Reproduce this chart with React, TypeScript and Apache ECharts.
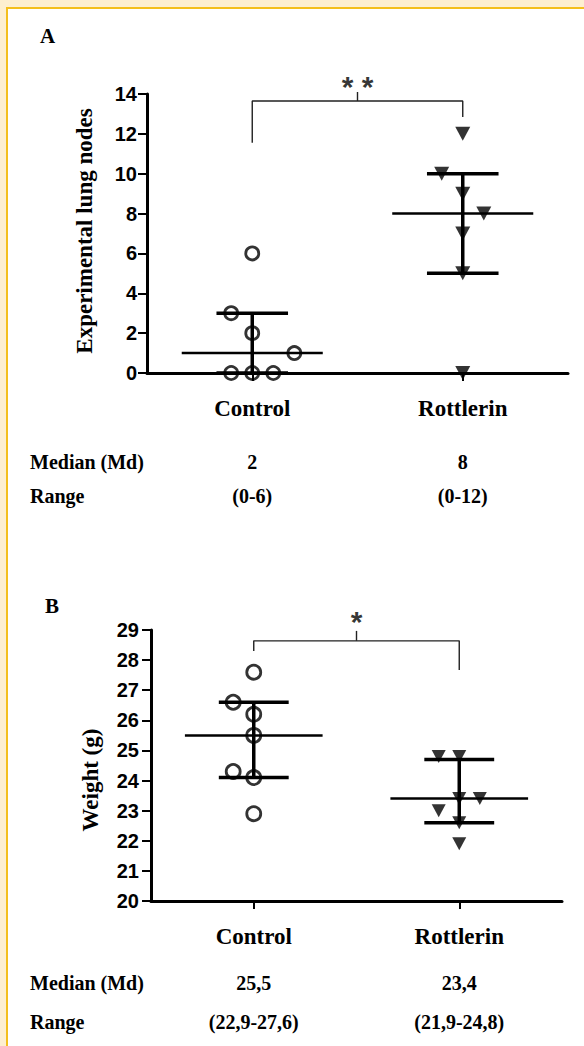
import React, { useEffect, useRef } from "react";
import * as echarts from "echarts";

// ---------- data ----------
const categories = ["Control", "Rottlerin"];

// Panel A: experimental lung nodes
const lungTicks = { min: 0, max: 14, interval: 2 };
const lungControl = [6, 3, 2, 1, 0, 0, 0];
const lungControlJitter = [0, -0.1, 0, 0.2, -0.1, 0, 0.1];
const lungRottlerin = [12, 10, 9, 8, 7, 5, 0];
const lungRottlerinJitter = [0, -0.1, 0, 0.1, 0, 0, 0];
const lungCenterLine = [1, 8];
const lungLow = [0, 5];
const lungHigh = [3, 10];
const lungMedianText = ["2", "8"];
const lungRangeText = ["(0-6)", "(0-12)"];
const lungSig = "* *";
const lungBracket = { leftFoot: 11.55, bar: 13.65, rightFoot: 12.85, tickTop: 14.1, star: 14.4 };

// Panel B: weight
const weightTicks = { min: 20, max: 29, interval: 1 };
const weightControl = [27.6, 26.6, 26.2, 25.5, 24.3, 24.1, 22.9];
const weightControlJitter = [0, -0.1, 0, 0, -0.1, 0, 0];
const weightRottlerin = [24.8, 24.8, 23.4, 23.4, 23.0, 22.6, 21.9];
const weightRottlerinJitter = [-0.1, 0, 0, 0.1, -0.1, 0, 0];
const weightCenterLine = [25.5, 23.4];
const weightLow = [24.1, 22.6];
const weightHigh = [26.6, 24.7];
const weightMedianText = ["25,5", "23,4"];
const weightRangeText = ["(22,9-27,6)", "(21,9-24,8)"];
const weightSig = "*";
const weightBracket = { leftFoot: 28.3, bar: 28.64, rightFoot: 27.67, tickTop: 28.97, star: 29.28 };

const rowLabels = ["Median (Md)", "Range"];

// ---------- styles ----------
const serif = "'Liberation Serif', 'Times New Roman', serif";
const sans = "'Liberation Sans', Arial, sans-serif";

function buildPanel(gi: number, cfg: any) {
  const yi = gi;
  const grid = { left: cfg.left, top: cfg.top, width: cfg.width, height: cfg.height, outerBoundsMode: "none", containLabel: false };
  const xAxes: any[] = [
    {
      type: "category",
      gridIndex: gi,
      position: "bottom",
      data: categories,
      boundaryGap: true,
      axisLine: { lineStyle: { color: "#000", width: 3 } },
      axisTick: { show: true, alignWithLabel: true, length: 8, lineStyle: { width: 2, color: "#000" } },
      axisLabel: { color: "#000", fontFamily: serif, fontWeight: "bold", fontSize: 23, margin: cfg.catMargin },
      splitLine: { show: false },
    },
    { type: "value", gridIndex: gi, position: "top", min: 0, max: 2, show: false },
  ];
  const yAxis = {
    type: "value",
    gridIndex: gi,
    min: cfg.ticks.min,
    max: cfg.ticks.max,
    interval: cfg.ticks.interval,
    axisLine: { show: true, lineStyle: { color: "#000", width: 3 } },
    axisTick: { show: true, length: 9, lineStyle: { width: 2, color: "#000" } },
    axisLabel: { color: "#000", fontFamily: sans, fontWeight: "bold", fontSize: 20, margin: cfg.yMargin },
    splitLine: { show: false },
  };

  const xi = gi * 2 + 1;
  const seg = (pts: number[][], width: number, color = "#000") => ({
    type: "line",
    xAxisIndex: xi,
    yAxisIndex: yi,
    data: pts,
    symbol: "none",
    silent: true,
    clip: false,
    z: 3,
    lineStyle: { color, width },
  });

  const series: any[] = [];
  for (let g = 0; g < 2; g++) {
    const c = g + 0.5;
    series.push(seg([[c, cfg.low[g]], [c, cfg.high[g]]], 3.5));
    series.push(seg([[c - 0.17, cfg.high[g]], [c + 0.17, cfg.high[g]]], 3.5));
    series.push(seg([[c - 0.17, cfg.low[g]], [c + 0.17, cfg.low[g]]], 3.5));
    series.push(seg([[c - 0.335, cfg.center[g]], [c + 0.335, cfg.center[g]]], 2.5));
  }
  series.push({
    type: "scatter",
    xAxisIndex: xi,
    yAxisIndex: yi,
    z: 5,
    clip: false,
    symbol: "circle",
    symbolSize: cfg.circleSize,
    itemStyle: { color: "rgba(0,0,0,0)", borderColor: "#000", borderWidth: 2.8 },
    data: cfg.control.map((v: number, i: number) => [0.5 + cfg.controlJitter[i], v]),
  });
  series.push({
    type: "scatter",
    xAxisIndex: xi,
    yAxisIndex: yi,
    z: 5,
    clip: false,
    symbol: "triangle",
    symbolRotate: 180,
    symbolSize: cfg.triSize,
    itemStyle: { color: "#000" },
    data: cfg.rottlerin.map((v: number, i: number) => [1.5 + cfg.rottlerinJitter[i], v]),
  });
  const b = cfg.bracket;
  series.push(seg([[0.5, b.leftFoot], [0.5, b.bar], [1.5, b.bar], [1.5, b.rightFoot]], 1.4, "#222"));
  series.push(seg([[1, b.bar], [1, b.tickTop]], 1.4, "#222"));
  series.push({
    type: "scatter",
    xAxisIndex: xi,
    yAxisIndex: yi,
    clip: false,
    symbolSize: 0,
    silent: true,
    data: [[1, b.star]],
    label: {
      show: true,
      position: "inside",
      formatter: cfg.sig,
      color: "#000",
      fontFamily: sans,
      fontWeight: "bold",
      fontSize: 30,
    },
  });
  return { grid, xAxes, yAxis, series };
}

export default function App() {
  const ref = useRef<HTMLDivElement>(null);
  useEffect(() => {
    if (!ref.current) return;
    const chart = echarts.init(ref.current, null, { renderer: "svg" });
    const a = buildPanel(0, {
      left: 147, top: 94, width: 421, height: 279,
      catMargin: 24, yMargin: 10,
      ticks: lungTicks,
      control: lungControl, controlJitter: lungControlJitter,
      rottlerin: lungRottlerin, rottlerinJitter: lungRottlerinJitter,
      center: lungCenterLine, low: lungLow, high: lungHigh,
      sig: lungSig, bracket: lungBracket, circleSize: 13, triSize: [15, 14],
    });
    const b = buildPanel(1, {
      left: 151, top: 630, width: 411, height: 271,
      catMargin: 24, yMargin: 12,
      ticks: weightTicks,
      control: weightControl, controlJitter: weightControlJitter,
      rottlerin: weightRottlerin, rottlerinJitter: weightRottlerinJitter,
      center: weightCenterLine, low: weightLow, high: weightHigh,
      sig: weightSig, bracket: weightBracket, circleSize: 14, triSize: [14, 13],
    });
    chart.setOption({
      animation: false,
      grid: [a.grid, b.grid],
      xAxis: [...a.xAxes, ...b.xAxes],
      yAxis: [a.yAxis, b.yAxis],
      series: [...a.series, ...b.series],
    });

    const txt = (text: string, x: number, y: number, size: number, align = "left") => ({
      type: "text",
      x,
      y,
      style: {
        text,
        fill: "#000",
        font: `bold ${size}px ${serif}`,
        textAlign: align,
        textVerticalAlign: "middle",
      },
    });
    const px = (axis: number, v: number) => chart.convertToPixel({ xAxisIndex: axis }, v) as number;
    const tableRows = [
      { axis: 1, y: 462, texts: lungMedianText },
      { axis: 1, y: 496, texts: lungRangeText },
      { axis: 3, y: 983, texts: weightMedianText },
      { axis: 3, y: 1022, texts: weightRangeText },
    ];
    const graphics: any[] = [
      txt("A", 40, 36, 21),
      txt("B", 45, 606, 21),
      { type: "text", x: 84, y: 231, rotation: Math.PI / 2, style: { text: "Experimental lung nodes", fill: "#000", font: `bold 23px ${serif}`, textAlign: "center", textVerticalAlign: "middle" } },
      { type: "text", x: 90, y: 780, rotation: Math.PI / 2, style: { text: "Weight (g)", fill: "#000", font: `bold 23px ${serif}`, textAlign: "center", textVerticalAlign: "middle" } },
      txt(rowLabels[0], 30, 462, 20),
      txt(rowLabels[1], 30, 496, 20),
      txt(rowLabels[0], 30, 983, 20),
      txt(rowLabels[1], 30, 1022, 20),
    ];
    tableRows.forEach((row) => {
      row.texts.forEach((t, i) => {
        graphics.push(txt(t, px(row.axis, i + 0.5), row.y, 20, "center"));
      });
    });
    chart.setOption({ graphic: graphics });
    return () => chart.dispose();
  }, []);
  return (
    <div style={{ position: "absolute", left: 0, top: 0, width: 584, height: 1046, background: "#fdefd0", overflow: "hidden" }}>
      <div style={{ position: "absolute", left: 6, top: 7, right: 0, bottom: 0, background: "#fff", borderLeft: "2px solid #f4bf1c", borderTop: "2px solid #f4bf1c" }} />
      <div ref={ref} style={{ position: "absolute", left: 0, top: 0, width: 584, height: 1046 }} />
    </div>
  );
}
